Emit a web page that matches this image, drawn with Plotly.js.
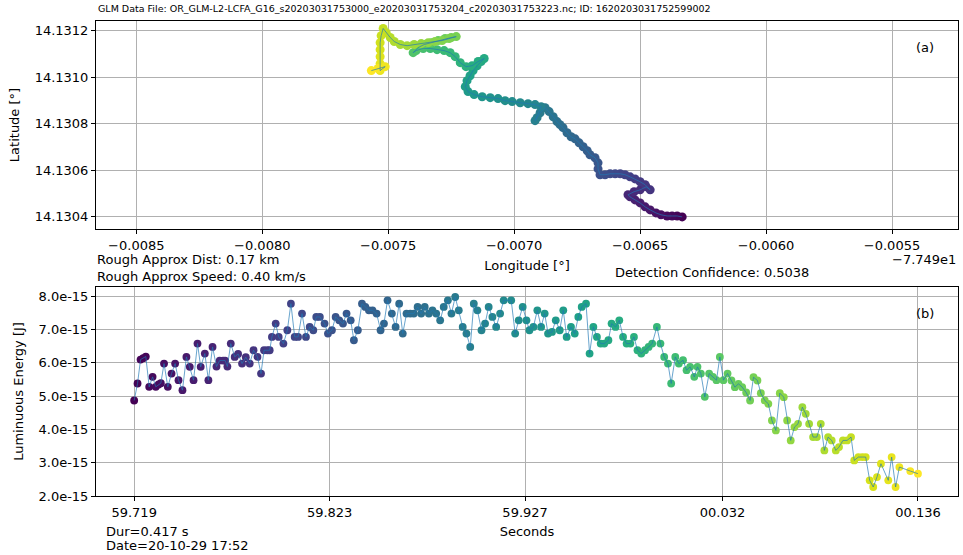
<!DOCTYPE html>
<html><head><meta charset="utf-8">
<script src="https://cdn.plot.ly/plotly-3.0.1.min.js"></script>
<style>html,body{margin:0;padding:0;background:#fff}#chart{width:963px;height:555px}</style>
</head><body><div id="chart"></div>
<script>
// ---- Panel (b): luminous energy vs time ----
const timeSec = [
59.7190,59.7208,59.7224,59.7238,59.7252,59.7270,59.7288,59.7305,59.7320,59.7332,
59.7349,59.7369,59.7389,59.7408,59.7426,59.7447,59.7468,59.7486,59.7506,59.7527,
59.7544,59.7566,59.7585,59.7607,59.7628,59.7645,59.7663,59.7674,59.7686,59.7704,
59.7725,59.7743,59.7764,59.7784,59.7805,59.7825,59.7846,59.7865,59.7881,59.7899,
59.7911,59.7923,59.7943,59.7959,59.7984,59.8005,59.8024,59.8044,59.8062,59.8083,
59.8104,59.8124,59.8143,59.8159,59.8178,59.8203,59.8221,59.8242,59.8262,59.8281,
59.8301,59.8320,59.8342,59.8359,59.8380,59.8402,59.8420,59.8439,59.8458,59.8480,
59.8501,59.8519,59.8538,59.8561,59.8581,59.8600,59.8619,59.8639,59.8659,59.8678,
59.8698,59.8717,59.8736,59.8758,59.8777,59.8797,59.8818,59.8837,59.8859,59.8878,
59.8898,59.8917,59.8938,59.8958,59.8978,59.8997,59.9016,59.9038,59.9057,59.9076,
59.9096,59.9116,59.9137,59.9156,59.9196,59.9217,59.9236,59.9257,59.9277,59.9293,
59.9314,59.9335,59.9355,59.9374,59.9392,59.9413,59.9433,59.9454,59.9473,59.9491,
59.9514,59.9534,59.9553,59.9571,59.9594,59.9613,59.9633,59.9652,59.9672,59.9691,
59.9713,59.9730,59.9751,59.9771,59.9791,59.9810,59.9830,59.9849,59.9868,59.9888,
59.9908,59.9927,59.9946,59.9971,59.9990,60.0010,60.0030,60.0047,60.0069,60.0088,
60.0110,60.0129,60.0148,60.0170,60.0187,60.0205,60.0226,60.0249,60.0269,60.0288,
60.0306,60.0325,60.0347,60.0368,60.0386,60.0405,60.0425,60.0446,60.0467,60.0485,
60.0506,60.0524,60.0545,60.0564,60.0583,60.0604,60.0625,60.0646,60.0664,60.0683,
60.0703,60.0722,60.0745,60.0763,60.0781,60.0802,60.0822,60.0843,60.0862,60.0882,
60.0901,60.0923,60.0940,60.0961,60.0983,60.1004,60.1021,60.1043,60.1064,60.1082,
60.1103,60.1122,60.1142,60.1163,60.1202,60.1220,60.1241,60.1261,60.1319,60.1360];

// luminous energy in units of 1e-15 J
const energyFemtoJ = [
4.87,5.38,6.10,6.14,6.19,5.28,5.58,5.28,5.35,5.39,
5.98,5.28,5.68,5.98,5.48,5.18,6.18,5.88,5.48,6.58,
5.88,6.28,5.48,6.48,5.89,6.07,6.07,6.07,5.89,6.58,
6.18,6.27,5.98,6.17,5.98,6.38,6.18,5.68,6.38,6.38,
6.38,6.78,7.18,6.78,6.58,6.98,7.78,6.78,6.78,7.48,
6.78,7.08,6.98,7.38,7.38,7.18,6.88,6.98,7.38,7.28,
7.18,7.48,7.28,6.68,6.98,7.78,7.68,7.58,7.58,7.48,
6.98,7.18,7.88,7.48,7.08,7.78,6.88,7.48,7.48,7.48,
7.68,7.48,7.68,7.48,7.58,7.48,7.28,7.68,7.88,7.48,
7.98,7.58,7.08,6.88,6.48,7.78,7.58,6.98,7.18,7.68,
7.38,7.08,7.48,7.88,7.88,6.88,7.28,7.68,7.28,6.98,
7.08,7.58,7.08,7.48,6.88,6.93,7.28,6.98,7.58,6.78,
7.08,6.88,7.38,7.68,7.78,6.28,7.08,6.78,6.58,6.58,
6.68,7.18,7.08,7.28,6.78,6.58,6.58,6.78,6.38,6.28,
6.38,6.48,6.58,7.08,6.58,6.18,5.98,5.38,6.18,5.98,
6.08,5.78,5.88,5.58,5.88,5.68,4.98,5.68,5.58,5.48,
6.18,5.48,5.68,5.47,5.27,5.37,5.27,5.11,4.87,5.57,
5.47,5.09,4.87,4.77,4.27,3.97,5.09,4.97,4.27,3.67,
4.07,4.17,4.67,4.47,4.17,3.77,3.77,4.17,3.37,3.77,
3.67,3.37,3.47,3.67,3.67,3.77,3.07,3.17,3.17,3.17,
2.47,2.27,2.57,2.97,2.47,3.17,2.27,2.87,2.75,2.67];

const timeTickVals = [59.719, 59.823, 59.927, 60.032, 60.136];
const timeTickText = ['59.719', '59.823', '59.927', '00.032', '00.136'];
const energyTickVals = [2e-15, 3e-15, 4e-15, 5e-15, 6e-15, 7e-15, 8e-15];
const energyTickText = ['2.0e-15', '3.0e-15', '4.0e-15', '5.0e-15', '6.0e-15', '7.0e-15', '8.0e-15'];

// ---- Panel (a): track, longitude relative to -77.49 deg ----
const lonOffsetDeg = [
-0.006333,-0.006353,-0.006373,-0.006393,-0.006417,-0.006437,-0.006460,-0.006480,-0.006500,-0.006520,
-0.006540,-0.006548,-0.006524,-0.006500,-0.006476,-0.006460,-0.006480,-0.006500,-0.006520,-0.006540,
-0.006560,-0.006579,-0.006599,-0.006619,-0.006639,-0.006659,-0.006667,-0.006667,-0.006679,-0.006699,
-0.006710,-0.006726,-0.006742,-0.006758,-0.006774,-0.006790,-0.006806,-0.006818,-0.006830,-0.006845,
-0.006861,-0.006877,-0.006897,-0.006909,-0.006917,-0.006893,-0.006917,-0.006945,-0.006976,-0.007008,
-0.007036,-0.007064,-0.007095,-0.007127,-0.007159,-0.007183,-0.007194,-0.007187,-0.007175,-0.007163,
-0.007147,-0.007131,-0.007119,-0.007143,-0.007167,-0.007191,-0.007214,-0.007234,-0.007254,-0.007278,
-0.007306,-0.007333,-0.007361,-0.007389,-0.007401,-0.007381,-0.007357,-0.007329,-0.007302,-0.007274,
-0.007250,-0.007230,-0.007258,-0.007286,-0.007314,-0.007341,-0.007369,-0.007397,-0.007425,-0.007452,
-0.007476,-0.007492,-0.007508,-0.007520,-0.007528,-0.007532,-0.007532,-0.007532,-0.007532,-0.007532,
-0.007512,-0.007540,-0.007567];
const latDeg = [
14.130400,14.130404,14.130404,14.130404,14.130409,14.130417,14.130430,14.130443,14.130460,14.130473,
14.130486,14.130495,14.130508,14.130516,14.130529,14.130516,14.130538,14.130551,14.130563,14.130572,
14.130581,14.130585,14.130585,14.130585,14.130581,14.130581,14.130606,14.130632,14.130654,14.130667,
14.130684,14.130701,14.130718,14.130735,14.130744,14.130761,14.130783,14.130796,14.130809,14.130830,
14.130852,14.130869,14.130847,14.130826,14.130813,14.130873,14.130882,14.130886,14.130890,14.130895,
14.130899,14.130908,14.130912,14.130916,14.130925,14.130938,14.130959,14.130985,14.131006,14.131028,
14.131049,14.131067,14.131080,14.131067,14.131049,14.131045,14.131062,14.131088,14.131105,14.131114,
14.131118,14.131123,14.131123,14.131114,14.131105,14.131127,14.131140,14.131148,14.131157,14.131166,
14.131170,14.131174,14.131166,14.131157,14.131153,14.131148,14.131144,14.131140,14.131135,14.131140,
14.131153,14.131170,14.131191,14.131209,14.131178,14.131148,14.131118,14.131088,14.131058,14.131028,
14.131045,14.131037,14.131028];

const lonTickVals = [-0.0085, -0.0080, -0.0075, -0.0070, -0.0065, -0.0060, -0.0055];
const latTickVals = [14.1304, 14.1306, 14.1308, 14.1310, 14.1312];

const captionText = 'GLM Data File: OR_GLM-L2-LCFA_G16_s20203031753000_e20203031753204_c20203031753223.nc; ID: 1620203031752599002';
const distText = 'Rough Approx Dist: 0.17 km';
const speedText = 'Rough Approx Speed: 0.40 km/s';
const confText = 'Detection Confidence: 0.5038';
const durText = 'Dur=0.417 s';
const dateText = 'Date=20-10-29 17:52';
const lonOffsetLabel = '\u22127.749e1';

// ---- build ----
const W = 963, H = 555;
const FONT = 'DejaVu Sans, sans-serif';
const lineColor = 'rgba(31,119,180,0.75)';
const energyJ = energyFemtoJ.map(v => v * 1e-15);
const trackIndex = lonOffsetDeg.map((_, i) => i);

const traces = [
  {x: lonOffsetDeg, y: latDeg, xaxis: 'x', yaxis: 'y', mode: 'markers', type: 'scatter',
   marker: {size: 9, color: trackIndex, colorscale: 'Viridis', showscale: false, line: {width: 0}},
   hoverinfo: 'skip'},
  {x: lonOffsetDeg, y: latDeg, xaxis: 'x', yaxis: 'y', mode: 'lines', type: 'scatter',
   line: {color: lineColor, width: 0.9}, hoverinfo: 'skip'},
  {x: timeSec, y: energyJ, xaxis: 'x2', yaxis: 'y2', mode: 'markers', type: 'scatter',
   marker: {size: 7.8, color: timeSec, colorscale: 'Viridis', showscale: false, line: {width: 0}},
   hoverinfo: 'skip'},
  {x: timeSec, y: energyJ, xaxis: 'x2', yaxis: 'y2', mode: 'lines', type: 'scatter',
   line: {color: lineColor, width: 0.9}, hoverinfo: 'skip'}
];

const axBase = {
  showline: true, mirror: true, linecolor: '#000', linewidth: 1,
  showgrid: true, gridcolor: '#b0b0b0', gridwidth: 1, zeroline: false,
  ticks: 'outside', ticklen: 4, tickcolor: '#000', tickwidth: 1,
  tickfont: {family: FONT, size: 13, color: '#000'}, automargin: false
};
const mL = 96, mR = 5, mT = 21, mB = 59;
const plotH = H - mT - mB;
const fy = py => 1 - (py - mT) / plotH;
const fx = px => (px - mL) / (W - mL - mR);

const layout = {
  width: W, height: H, showlegend: false,
  paper_bgcolor: '#fff', plot_bgcolor: '#fff',
  margin: {l: mL, r: mR, t: mT, b: mB, pad: 0},
  font: {family: FONT, size: 13, color: '#000'},
  xaxis: Object.assign({}, axBase, {anchor: 'y', domain: [0, 1],
    range: [-0.008660, -0.005238], tickvals: lonTickVals, tickformat: '.4f',
    title: {text: 'Longitude [°]', font: {family: FONT, size: 13}, standoff: 9}}),
  yaxis: Object.assign({}, axBase, {anchor: 'x', domain: [fy(229), 1],
    range: [14.130348, 14.131241], tickvals: latTickVals, tickformat: '.4f',
    title: {text: 'Latitude [°]', font: {family: FONT, size: 13}, standoff: 12}}),
  xaxis2: Object.assign({}, axBase, {anchor: 'y2', domain: [0, 1],
    range: [59.6987, 60.1573], tickvals: timeTickVals, ticktext: timeTickText,
    title: {text: 'Seconds', font: {family: FONT, size: 13}, standoff: 8}}),
  yaxis2: Object.assign({}, axBase, {anchor: 'x2', domain: [0, fy(287)],
    range: [2.0e-15, 8.28e-15], tickvals: energyTickVals, ticktext: energyTickText,
    title: {text: 'Luminuous Energy [J]', font: {family: FONT, size: 13}, standoff: 11}}),
  annotations: [
    {text: captionText, xref: 'paper', yref: 'paper', x: fx(96), y: fy(9),
     xanchor: 'left', yanchor: 'middle', showarrow: false, font: {family: FONT, size: 9.5}},
    {text: '(a)', xref: 'paper', yref: 'paper', x: fx(925), y: fy(47),
     xanchor: 'center', yanchor: 'middle', showarrow: false, font: {family: FONT, size: 13}},
    {text: '(b)', xref: 'paper', yref: 'paper', x: fx(925), y: fy(313),
     xanchor: 'center', yanchor: 'middle', showarrow: false, font: {family: FONT, size: 13}},
    {text: lonOffsetLabel, xref: 'paper', yref: 'paper', x: 1, y: fy(259),
     xanchor: 'right', yanchor: 'middle', showarrow: false, font: {family: FONT, size: 13}},
    {text: distText, xref: 'paper', yref: 'paper', x: fx(95), y: fy(259),
     xanchor: 'left', yanchor: 'middle', showarrow: false, font: {family: FONT, size: 13}},
    {text: speedText, xref: 'paper', yref: 'paper', x: fx(95), y: fy(276),
     xanchor: 'left', yanchor: 'middle', showarrow: false, font: {family: FONT, size: 13}},
    {text: confText, xref: 'paper', yref: 'paper', x: fx(613), y: fy(272),
     xanchor: 'left', yanchor: 'middle', showarrow: false, font: {family: FONT, size: 13}},
    {text: durText, xref: 'paper', yref: 'paper', x: fx(104), y: fy(531),
     xanchor: 'left', yanchor: 'middle', showarrow: false, font: {family: FONT, size: 13}},
    {text: dateText, xref: 'paper', yref: 'paper', x: fx(104), y: fy(545),
     xanchor: 'left', yanchor: 'middle', showarrow: false, font: {family: FONT, size: 13}}
  ]
};

Plotly.newPlot('chart', traces, layout, {staticPlot: true, displayModeBar: false});
</script>
</body></html>
